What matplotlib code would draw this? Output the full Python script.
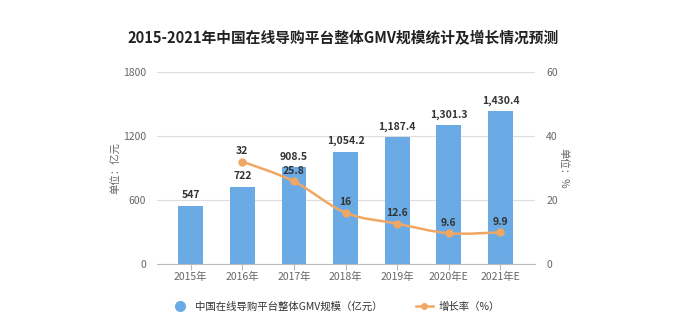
import matplotlib.pyplot as plt
from matplotlib.path import Path
from matplotlib.patches import PathPatch
from matplotlib.lines import Line2D
import numpy as np

plt.rcParams['font.family'] = ['Noto Sans CJK SC', 'DejaVu Sans']

years = ["2015年", "2016年", "2017年", "2018年", "2019年", "2020年E", "2021年E"]
gmv = [547, 722, 908.5, 1054.2, 1187.4, 1301.3, 1430.4]
gmv_labels = ["547", "722", "908.5", "1,054.2", "1,187.4", "1,301.3", "1,430.4"]
growth_idx = [1, 2, 3, 4, 5, 6]
growth = [32, 25.8, 16, 12.6, 9.6, 9.9]
growth_labels = ["32", "25.8", "16", "12.6", "9.6", "9.9"]

bar_color = "#6aabe6"
line_color = "#f0a763"
text_gray = "#666666"

fig = plt.figure(figsize=(6.86, 3.3), dpi=100)
ax = fig.add_axes([0.229, 0.2, 0.551, 0.582])
ax2 = ax.twinx()

x = np.arange(len(years))
ax.bar(x, gmv, width=0.48, color=bar_color, zorder=2)
ax.set_xlim(-0.65, 6.67)
ax.set_ylim(0, 1800)
ax.set_yticks([0, 600, 1200, 1800])
ax.grid(axis="y", color="#dddddd", linewidth=0.8, zorder=0)
ax.set_xticks(x)
ax.set_xticklabels(years)

for a in (ax, ax2):
    for s in ("top", "left", "right"):
        a.spines[s].set_visible(False)
ax.spines["bottom"].set_color("#bbbbbb")
ax2.spines["bottom"].set_visible(False)
ax.tick_params(axis="x", colors="#bbbbbb", labelcolor=text_gray, labelsize=7.5, length=4, pad=2)
ax.tick_params(axis="y", length=0, labelcolor=text_gray, labelsize=7.5, pad=8)
ax2.tick_params(axis="y", length=0, labelcolor=text_gray, labelsize=7.5, pad=8)

ax.set_ylabel("单位：亿元", color=text_gray, fontsize=7.5, labelpad=1)
ax2.set_ylabel("单位：%", color=text_gray, fontsize=7.5, rotation=270, labelpad=8)

for xi, v, lab in zip(x, gmv, gmv_labels):
    ax.annotate(lab, (xi, v), xytext=(0, 4), textcoords="offset points",
                ha="center", va="bottom", fontsize=7.5, fontweight="bold", color="#333333")

# smooth growth curve (cubic bezier through the points)
ax2.set_ylim(0, 60)
ax2.set_yticks([0, 20, 40, 60])
px = np.array(growth_idx, dtype=float)
py = np.array(growth, dtype=float)
verts = [(px[0], py[0])]
codes = [Path.MOVETO]
for i in range(len(px) - 1):
    p0 = (px[i - 1], py[i - 1]) if i > 0 else (px[i], py[i])
    p3 = (px[i + 2], py[i + 2]) if i + 2 < len(px) else (px[i + 1], py[i + 1])
    c1 = (px[i] + (px[i + 1] - p0[0]) / 6, py[i] + (py[i + 1] - p0[1]) / 6)
    c2 = (px[i + 1] - (p3[0] - px[i]) / 6, py[i + 1] - (p3[1] - py[i]) / 6)
    verts += [c1, c2, (px[i + 1], py[i + 1])]
    codes += [Path.CURVE4] * 3
ax2.add_patch(PathPatch(Path(verts, codes), facecolor="none", edgecolor=line_color,
                        linewidth=1.8, zorder=3))
ax2.plot(px, py, "o", color=line_color, markersize=5, zorder=4)
for xi, v, lab in zip(px, py, growth_labels):
    ax2.annotate(lab, (xi, v), xytext=(0, 4), textcoords="offset points",
                 ha="center", va="bottom", fontsize=7.5, fontweight="bold", color="#333333", zorder=5)

fig.text(0.5, 0.885, "2015-2021年中国在线导购平台整体GMV规模统计及增长情况预测",
         ha="center", va="center", fontsize=10.6, fontweight="bold", color="#222222")

handles = [
    Line2D([], [], marker="o", color=bar_color, linestyle="none", markersize=7),
    Line2D([], [], marker="o", color=line_color, linewidth=1.8, markersize=4),
]
fig.legend(handles, ["中国在线导购平台整体GMV规模（亿元）", "增长率（%）"],
           loc="center", bbox_to_anchor=(0.49, 0.07), ncol=2, frameon=False,
           fontsize=7.5, labelcolor="#333333", columnspacing=3.2, handlelength=1.6,
           handletextpad=0.6)

fig.savefig("out.png", dpi=100)
